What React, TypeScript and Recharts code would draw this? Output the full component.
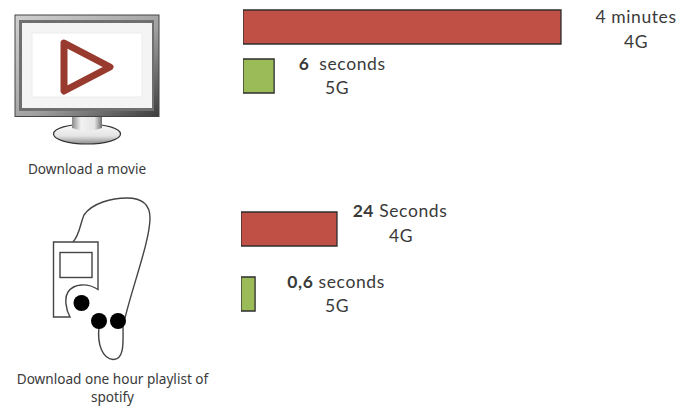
import { Bar, BarChart, Cell, LabelList, XAxis, YAxis } from "recharts";

const TEXT = "#3a3a3a";
const RED = "#c05046";
const GREEN = "#9bbb59";
const EDGE = "#2e2e2e";
const LABEL_FONT = "Lato, 'Open Sans', sans-serif";
const CAPTION_FONT = "'Noto Sans', 'Open Sans', sans-serif";

const movieNetworks = ["4G", "5G"];
const movieSeconds = [240, 6];
const movieAmounts = ["4", "6\u00a0"];
const movieUnits = ["minutes", "seconds"];

const playlistNetworks = ["4G", "5G"];
const playlistSeconds = [24, 0.6];
const playlistAmounts = ["24", "0,6"];
const playlistUnits = ["Seconds", "seconds"];

const toRows = (networks: string[], seconds: number[], amounts: string[], units: string[]) =>
  networks.map((network, i) => ({ network, seconds: seconds[i], amount: amounts[i], unit: units[i] }));

/** Minimal d3-style power scale, the bars span too wide a range for a linear axis. */
function powScale(exponent: number, dom: number[] = [0, 1], rng: number[] = [0, 1]) {
  const scale: any = (v: number) => {
    const t = Math.pow((v - dom[0]) / (dom[1] - dom[0]), exponent);
    return rng[0] + t * (rng[1] - rng[0]);
  };
  scale.domain = (d?: number[]) => {
    if (!d) return dom;
    dom = [...d];
    return scale;
  };
  scale.range = (r?: number[]) => {
    if (!r) return rng;
    rng = [...r];
    return scale;
  };
  scale.copy = () => powScale(exponent, dom, rng);
  scale.ticks = () => dom;
  scale.tickFormat = () => String;
  return scale;
}

type Placement = { dx: number; dyTop: number; dyBottom: number; center: number };

/** Two-line value label: amount and unit on top, network below. */
function rowLabel(rows: ReturnType<typeof toRows>, places: Placement[], boldAmount: boolean[]) {
  return (props: any) => {
    const { x, y, width, height, index } = props;
    const row = rows[index];
    const place = places[index];
    const right = Number(x) + Number(width);
    const mid = Number(y) + Number(height) / 2;
    return (
      <text fontFamily={LABEL_FONT} fontSize={17.5} letterSpacing={0.6} fill={TEXT} textAnchor="middle">
        <tspan x={right + place.dx} y={mid + place.dyTop} dominantBaseline="middle">
          <tspan fontWeight={boldAmount[index] ? 700 : 400}>{row.amount}</tspan>
          {" "}
          {row.unit}
        </tspan>
        <tspan x={right + place.center} y={mid + place.dyBottom} dominantBaseline="middle">
          {row.network}
        </tspan>
      </text>
    );
  };
}

function Monitor() {
  return (
    <g>
      <defs>
        <linearGradient id="frame" x1="0" y1="0" x2="1" y2="1">
          <stop offset="0" stopColor="#d0d0d0" />
          <stop offset="0.55" stopColor="#a2a2a2" />
          <stop offset="1" stopColor="#3c3c3c" />
        </linearGradient>
        <linearGradient id="neck" x1="0" y1="0" x2="1" y2="0">
          <stop offset="0" stopColor="#8a8a8a" />
          <stop offset="0.3" stopColor="#f2f2f2" />
          <stop offset="0.75" stopColor="#e4e4e4" />
          <stop offset="1" stopColor="#6f6f6f" />
        </linearGradient>
        <linearGradient id="foot" x1="0" y1="0" x2="0" y2="1">
          <stop offset="0" stopColor="#fafafa" />
          <stop offset="0.6" stopColor="#e4e4e4" />
          <stop offset="1" stopColor="#8c8c8c" />
        </linearGradient>
      </defs>
      <ellipse cx={87} cy={134} rx={33.5} ry={10} fill="url(#foot)" stroke="#333" strokeWidth={1.2} />
      <path d="M72 116 H102 V128 Q87 134 72 128 Z" fill="url(#neck)" />
      <rect x={15} y={15} width={144} height={101.5} fill="url(#frame)" stroke="#444" />
      <rect x={19} y={20} width={135} height={91} fill="#6f6f6f" />
      <rect x={22} y={23} width={130} height={85} fill="#f4f4f4" />
      <rect x={32} y={33} width={110} height={64} fill="#ffffff" stroke="#ececec" />
      <path
        d="M64 43 L110 67 L64 91 Z"
        fill="#ffffff"
        stroke="#983a2e"
        strokeWidth={7}
        strokeLinejoin="round"
      />
    </g>
  );
}

function Player() {
  return (
    <g fill="none" stroke="#444" strokeWidth={1.4}>
      <path d="M53.5 242 H98 V289.5 C88 283 74 283 68 292 C64 298 66 310 70 317 H53.5 Z" fill="#fff" />
      <rect x={60} y={252.5} width={32} height={25} />
      <path d="M73 242 C80 234 80 224 84 215 C92 203 112 198 127 198 C142 198 150 205 150 218 C150 240 133 285 125 318" />
      <path d="M99 327 C97 345 103 359 113 359.5 C125 360 123 340 123 327" />
      <g fill="#000" stroke="none">
        <circle cx={81.5} cy={303} r={8} />
        <circle cx={99} cy={321} r={8} />
        <circle cx={118} cy={321} r={8} />
      </g>
    </g>
  );
}

const movieRows = toRows(movieNetworks, movieSeconds, movieAmounts, movieUnits);
const playlistRows = toRows(playlistNetworks, playlistSeconds, playlistAmounts, playlistUnits);

const moviePlaces: Placement[] = [
  { dx: 75, dyTop: -8.5, dyBottom: 17, center: 75 },
  { dx: 68, dyTop: -10.5, dyBottom: 13.5, center: 63 },
];
const playlistPlaces: Placement[] = [
  { dx: 63, dyTop: -16.5, dyBottom: 9, center: 64 },
  { dx: 81, dyTop: -10.5, dyBottom: 14, center: 82 },
];

function TimeBars({ rows, exponent, max, barEnd, top, left, places, bold }: any) {
  const width = 679 - left;
  const height = rows.length * (top < 100 ? 49 : 65);
  return (
    <div style={{ position: "absolute", left, top }}>
      <BarChart
        layout="vertical"
        width={width}
        height={height}
        data={rows}
        margin={{ top: 0, right: width - barEnd, bottom: 0, left: 0 }}
        barSize={34}
        style={{ overflow: "visible" }}
      >
        <XAxis type="number" hide domain={[0, max]} scale={powScale(exponent)} />
        <YAxis type="category" dataKey="network" hide />
        <Bar dataKey="seconds" isAnimationActive={false} stroke={EDGE} strokeWidth={1.3}>
          {rows.map((row: any) => (
            <Cell key={row.network} fill={row.network === "4G" ? RED : GREEN} />
          ))}
          <LabelList dataKey="seconds" content={rowLabel(rows, places, bold)} />
        </Bar>
      </BarChart>
    </div>
  );
}

export default function App() {
  return (
    <div style={{ position: "absolute", left: 0, top: 0, width: 679, height: 406, background: "#fff", overflow: "hidden" }}>
      <svg width={679} height={406} style={{ position: "absolute", left: 0, top: 0 }}>
        <Monitor />
        <Player />
        <g fontFamily={CAPTION_FONT} fontSize={13.6} fill={TEXT} textAnchor="middle">
          <text x={87} y={174}>Download a movie</text>
          <text x={112.5} y={384}>Download one hour playlist of</text>
          <text x={112.5} y={402}>spotify</text>
        </g>
      </svg>
      <TimeBars rows={movieRows} exponent={0.63} max={240} barEnd={318} top={1.5} left={243} places={moviePlaces} bold={[false, true]} />
      <TimeBars rows={playlistRows} exponent={0.52} max={24} barEnd={96} top={195.5} left={241} places={playlistPlaces} bold={[true, true]} />
    </div>
  );
}
